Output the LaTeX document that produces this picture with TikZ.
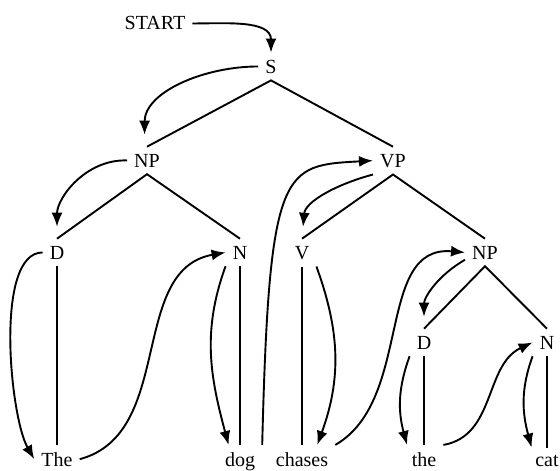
\documentclass[tikz,border=0pt]{standalone}
\usepackage{fontspec}
\setmainfont{Liberation Serif}
\usetikzlibrary{arrows.meta}
\begin{document}
\begin{tikzpicture}[x=1pt,y=1pt,>={Latex[length=14pt,width=11pt]},
  lab/.style={anchor=base,inner sep=7pt,font=\fontsize{20}{24}\selectfont},
  br/.style={line width=1.9pt},
  mv/.style={->,line width=1.9pt}]
\useasboundingbox (0,0) rectangle (560,-471);
\node[lab] (start) at (155,-30) {START};
\node[lab] (s) at (271,-73) {S};
\node[lab] (np) at (147,-167) {NP};
\node[lab] (vp) at (393,-167) {VP};
\node[lab] (d) at (57,-259) {D};
\node[lab] (n) at (240,-259) {N};
\node[lab] (v) at (302,-259) {V};
\node[lab] (np2) at (485,-259) {NP};
\node[lab] (d2) at (424,-349) {D};
\node[lab] (n2) at (547,-349) {N};
\node[lab] (the) at (57,-466) {The};
\node[lab] (dog) at (240,-466) {dog};
\node[lab] (chases) at (302,-466) {chases};
\node[lab] (the2) at (424,-466) {the};
\node[lab] (cat) at (547,-466) {cat};

\draw[br] (np.north) -- (s.south) -- (vp.north);
\draw[br] (d.north) -- (np.south) -- (n.north);
\draw[br] (v.north) -- (vp.south) -- (np2.north);
\draw[br] (d2.north) -- (np2.south) -- (n2.north);
\draw[br] (d.south) -- (the.north);
\draw[br] (n.south) -- (dog.north);
\draw[br] (v.south) -- (chases.north);
\draw[br] (d2.south) -- (the2.north);
\draw[br] (n2.south) -- (cat.north);

\draw[mv] (start.east) to[out=0,in=90] (s.north);
\draw[mv,shorten >=12pt] (s.west) to[out=180,in=90] (np.100);
\draw[mv,shorten >=12pt] (np.west) to[out=178,in=90] (d.north);
\draw[mv] (d.west) to[out=180,in=120,looseness=0.6] (the.west);
\draw[mv] (the.east) to[out=15,in=190] (n.west);
\draw[mv] (n.south west) to[out=250,in=105] (dog.125);
\draw[mv] (dog.north east) .. controls +(7,280) and +(-90,-5) .. (vp.west);
\draw[mv,shorten >=12pt] (vp.south west) to[out=195,in=85] (v.north);
\draw[mv] (v.south east) to[out=-70,in=70] (chases.43);
\draw[mv] (chases.north east) to[out=30,in=175] (np2.west);
\draw[mv,shorten >=12pt] (np2.200) to[out=210,in=90] (d2.north);
\draw[mv] (d2.south west) to[out=250,in=105] (the2.140);
\draw[mv] (the2.north east) to[out=10,in=205] (n2.west);
\draw[mv] (n2.south west) to[out=250,in=105] (cat.140);
\end{tikzpicture}
\end{document}
